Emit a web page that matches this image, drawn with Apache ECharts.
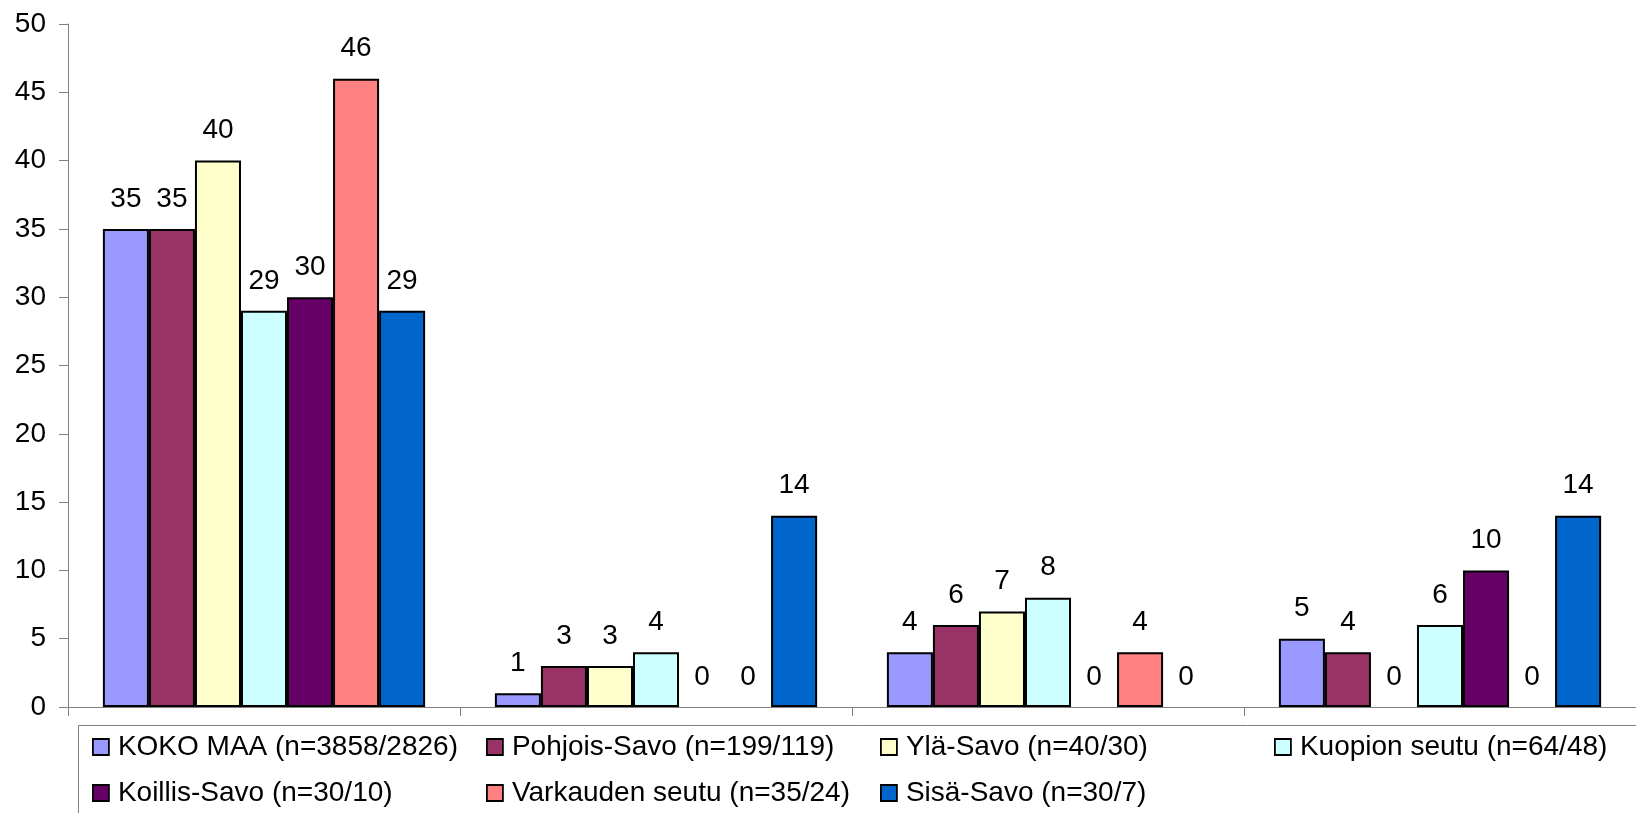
<!DOCTYPE html>
<html>
<head>
<meta charset="utf-8">
<script src="https://cdn.jsdelivr.net/npm/echarts@6/dist/echarts.min.js"></script>
<style>
html,body{margin:0;padding:0;background:#fff;}
#chart{width:1636px;height:813px;}
</style>
</head>
<body>
<div id="chart"></div>
<script>
const categories = ['1', '2', '3', '4'];
const seriesNames = [
  'KOKO MAA (n=3858/2826)',
  'Pohjois-Savo (n=199/119)',
  'Ylä-Savo (n=40/30)',
  'Kuopion seutu (n=64/48)',
  'Koillis-Savo (n=30/10)',
  'Varkauden seutu (n=35/24)',
  'Sisä-Savo (n=30/7)'
];
const kokoMaa = [35, 1, 4, 5];
const pohjoisSavo = [35, 3, 6, 4];
const ylaSavo = [40, 3, 7, 0];
const kuopionSeutu = [29, 4, 8, 6];
const koillisSavo = [30, 0, 0, 10];
const varkaudenSeutu = [46, 0, 4, 0];
const sisaSavo = [29, 14, 0, 14];
const yTicks = { min: 0, max: 50, interval: 5 };

const colors = ['#9999FF', '#993366', '#FFFFCC', '#CCFFFF', '#660066', '#FF8080', '#0066CC'];
const values = [kokoMaa, pohjoisSavo, ylaSavo, kuopionSeutu, koillisSavo, varkaudenSeutu, sisaSavo];
const FONT = '"Liberation Sans", Arial, sans-serif';

// legend layout: 4 columns, 2 rows
const legendCols = [92, 486, 880, 1274];
const legendRows = [733, 779];

const legends = seriesNames.map((name, i) => ({
  left: legendCols[i % 4],
  top: legendRows[Math.floor(i / 4)],
  orient: 'horizontal',
  padding: 0,
  icon: 'rect',
  itemWidth: 16,
  itemHeight: 16,
  selectedMode: false,
  data: [name],
  itemStyle: { borderColor: '#000', borderWidth: 1.8 },
  textStyle: {
    fontFamily: FONT,
    fontSize: 28,
    color: '#000',
    padding: [0, 0, 0, 4]
  }
}));

const chart = echarts.init(document.getElementById('chart'), null, { renderer: 'canvas' });
chart.setOption({
  animation: false,
  backgroundColor: '#ffffff',
  textStyle: { fontFamily: FONT },
  grid: { left: 68, top: 24, right: -9, bottom: 106, containLabel: false },
  graphic: [{
    type: 'rect',
    left: 76,
    top: 723,
    shape: { width: 1600, height: 120 },
    style: { fill: 'none', stroke: '#808080', lineWidth: 1 },
    silent: true
  }],
  legend: legends,
  xAxis: {
    type: 'category',
    data: categories,
    boundaryGap: true,
    axisLine: { show: true, lineStyle: { color: '#808080', width: 1 } },
    axisTick: { show: true, interval: 0, length: 9, lineStyle: { color: '#808080' } },
    axisLabel: { show: false },
    splitLine: { show: false }
  },
  yAxis: {
    type: 'value',
    min: yTicks.min,
    max: yTicks.max,
    interval: yTicks.interval,
    axisLine: { show: true, lineStyle: { color: '#808080', width: 1 } },
    axisTick: { show: true, length: 9, lineStyle: { color: '#808080' } },
    axisLabel: { fontFamily: FONT, fontSize: 28, color: '#000', margin: 22 },
    splitLine: { show: false }
  },
  series: seriesNames.map((name, i) => ({
    name: name,
    type: 'bar',
    data: values[i].map(v => v === 0 ? { value: v, itemStyle: { borderWidth: 0 } } : v),
    barGap: '0%',
    barCategoryGap: '17.8%',
    itemStyle: { color: colors[i], borderColor: '#000', borderWidth: 2 },
    label: {
      show: true,
      position: 'top',
      distance: 16,
      fontFamily: FONT,
      fontSize: 28,
      color: '#000'
    }
  }))
});
</script>
</body>
</html>
